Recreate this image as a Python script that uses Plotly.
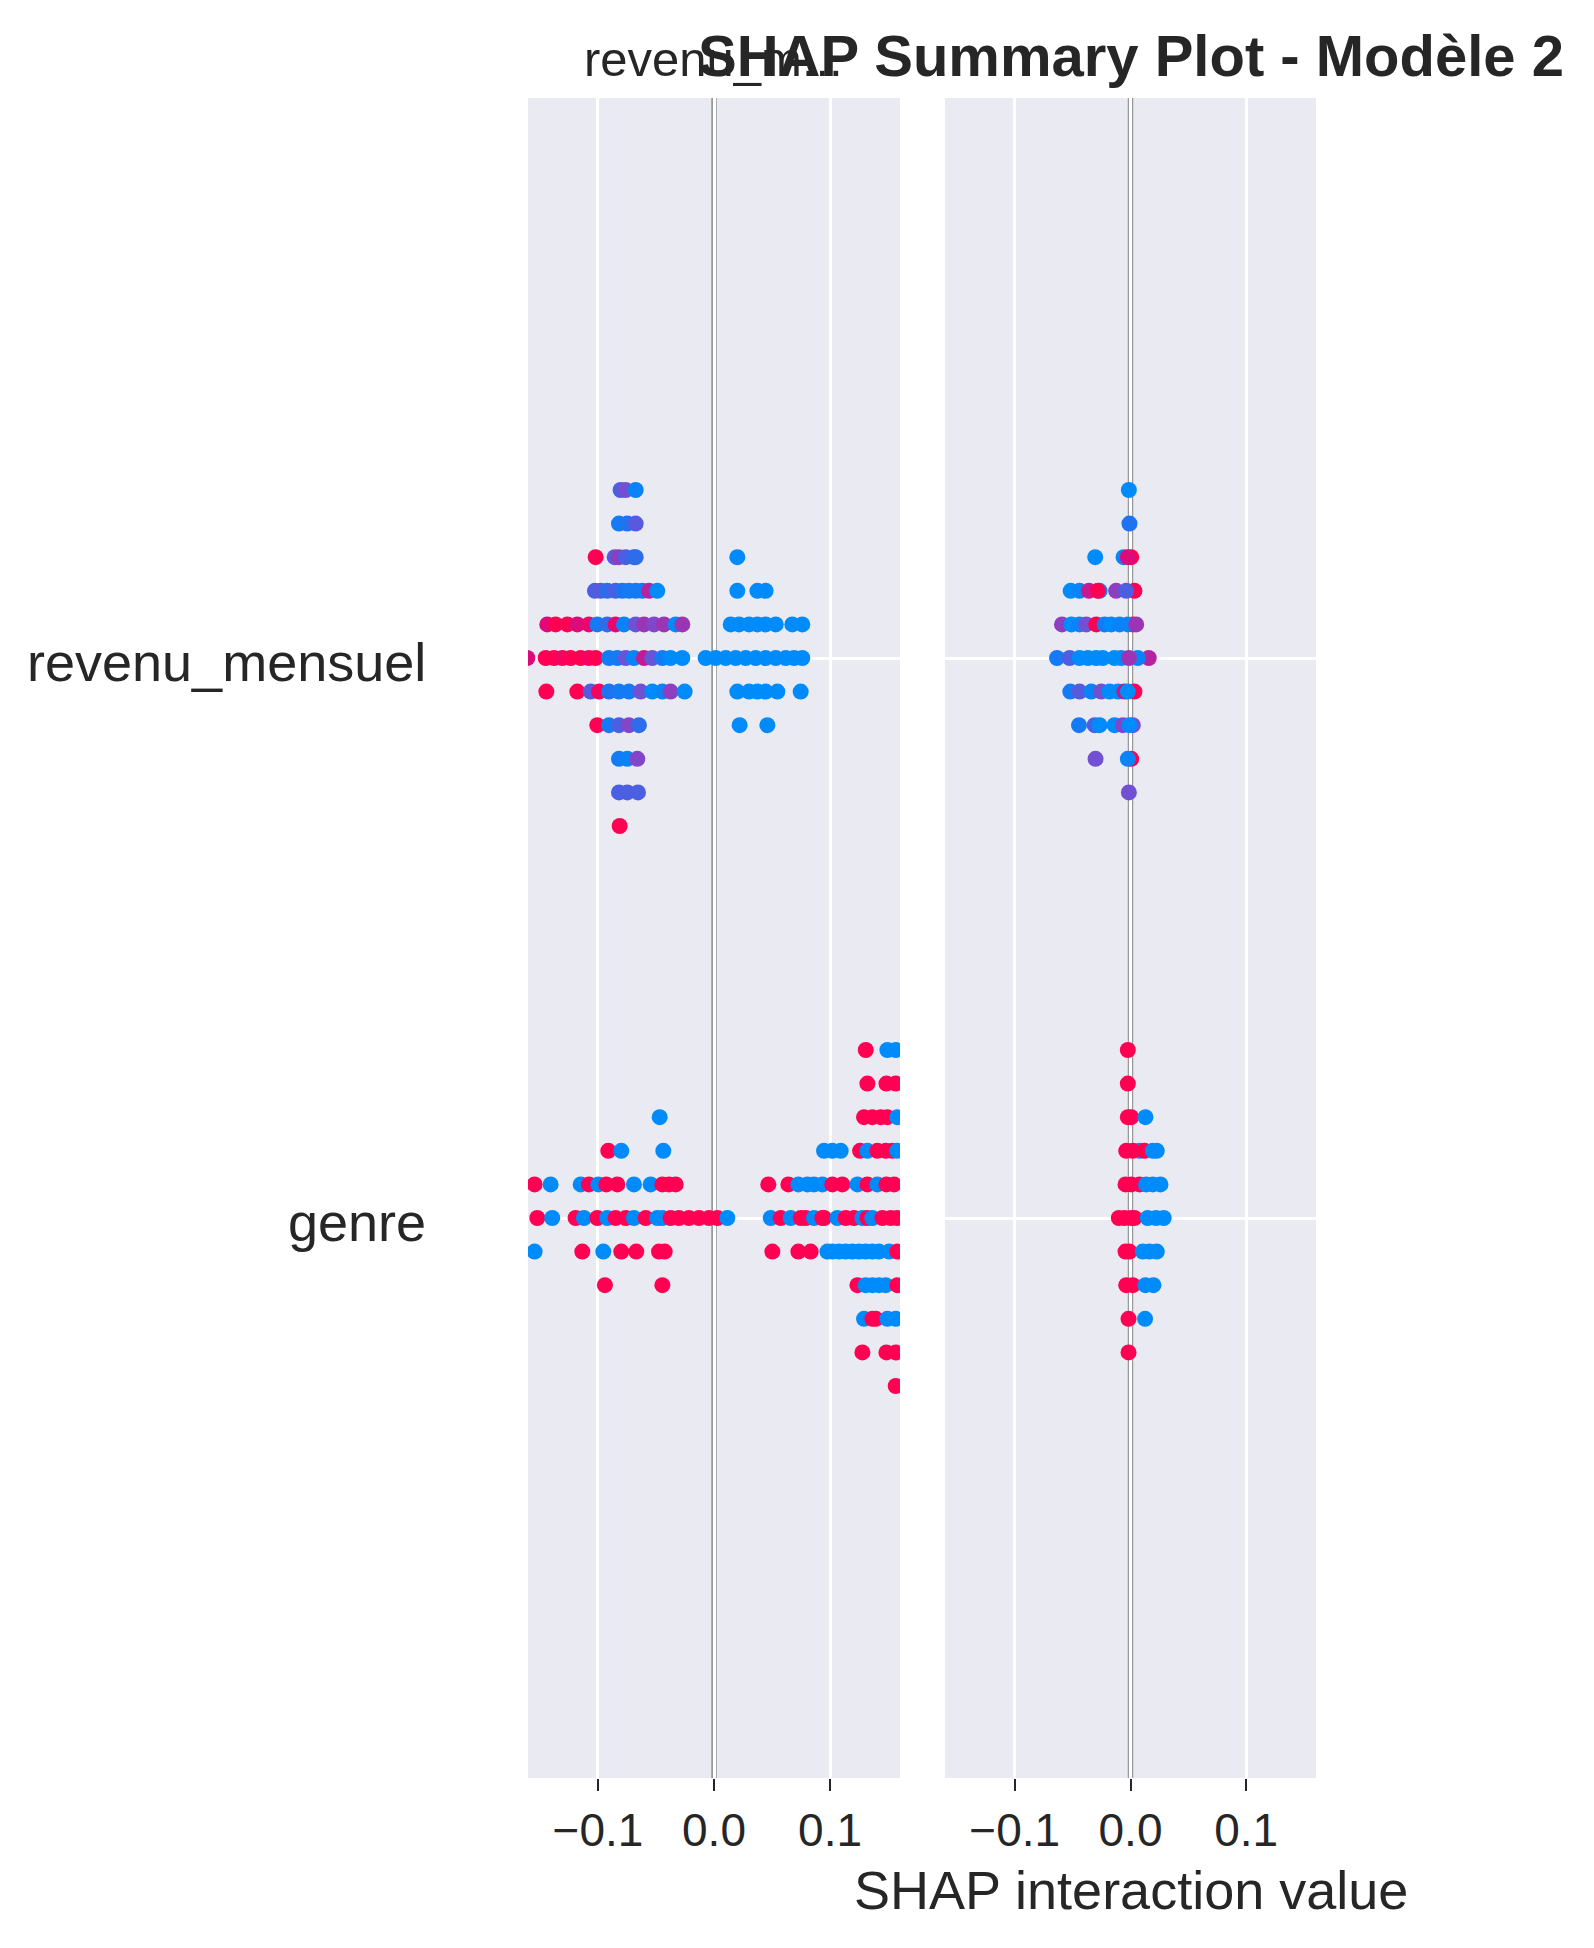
import plotly.graph_objects as go

# ---------------- data ----------------
FEATURES = ["genre", "revenu_mensuel"]          # y positions 0, 1
X_TICK_VALS = [-0.1, 0.0, 0.1]
X_TICK_TEXT = ["\u22120.1", "0.0", "0.1"]
PANEL_TITLES = ["revenu_m...", "SHAP Summary Plot - Modèle 2"]
X_TITLE = "SHAP interaction value"

# Panel 1, revenu_mensuel row: per swarm level, SHAP values and feature colour (0=low/blue, 1=high/red)
P1_REV_LEVELS = [5, 4, 3, 2, 1, 0, -1, -2, -3, -4, -5]
P1_REV_X = [
    [-0.0805, -0.0761, -0.0675],
    [-0.0819, -0.0747, -0.0675],
    [-0.1020, -0.0856, -0.0819, -0.0761, -0.0690, -0.0675, 0.0201],
    [-0.1026, -0.0977, -0.0920, -0.0848, -0.0790, -0.0733, -0.0675, -0.0618, -0.0560, -0.0489, 0.0201, 0.0374, 0.0445],
    [-0.1437, -0.1365, -0.1264, -0.1178, -0.1078, -0.1006, -0.0920, -0.0848, -0.0776, -0.0675, -0.0603, -0.0517, -0.0431, -0.0330, -0.0273,
     0.0144, 0.0216, 0.0302, 0.0374, 0.0445, 0.0532, 0.0675, 0.0761],
    [-0.1609, -0.1451, -0.1379, -0.1307, -0.1236, -0.1149, -0.1078, -0.1020, -0.0905, -0.0833, -0.0761, -0.0690, -0.0603, -0.0532, -0.0445, -0.0374, -0.0273,
     -0.0072, 0.0014, 0.0101, 0.0187, 0.0273, 0.0359, 0.0445, 0.0532, 0.0618, 0.0690, 0.0761],
    [-0.1445, -0.1178, -0.1063, -0.0991, -0.0905, -0.0819, -0.0733, -0.0632, -0.0532, -0.0445, -0.0374, -0.0253,
     0.0201, 0.0302, 0.0374, 0.0445, 0.0546, 0.0747],
    [-0.1006, -0.0905, -0.0819, -0.0733, -0.0647, 0.0221, 0.0460],
    [-0.0819, -0.0747, -0.0661],
    [-0.0819, -0.0747, -0.0655],
    [-0.0813],
]
P1_REV_C = [
    [0.3, 0.45, 0.05],
    [0.1, 0.15, 0.35],
    [1.0, 0.35, 0.55, 0.3, 0.25, 0.2, 0.0],
    [0.3, 0.35, 0.2, 0.3, 0.15, 0.1, 0.1, 0.1, 0.7, 0.0, 0.0, 0.0, 0.0],
    [0.85, 1.0, 1.0, 0.85, 0.9, 0.1, 0.2, 0.9, 0.05, 0.4, 0.6, 0.5, 0.6, 0.0, 0.6,
     0, 0, 0, 0, 0, 0, 0, 0],
    [0.85, 1.0, 1.0, 0.95, 1.0, 1.0, 0.95, 1.0, 0.1, 0.1, 0.4, 0.05, 0.75, 0.4, 0.1, 0.0, 0.0,
     0, 0, 0, 0, 0, 0, 0, 0, 0, 0, 0],
    [1.0, 1.0, 0.35, 0.95, 0.15, 0.1, 0.1, 0.45, 0.0, 0.05, 0.55, 0.0,
     0, 0, 0, 0, 0, 0],
    [1.0, 0.1, 0.3, 0.5, 0.2, 0, 0],
    [0.1, 0.05, 0.5],
    [0.3, 0.3, 0.3],
    [1.0],
]

# Panel 1, genre row (binary feature)
P1_GEN_LEVELS = [5, 4, 3, 2, 1, 0, -1, -2, -3, -4, -5]
P1_GEN_X = [
    [0.1308, 0.1494, 0.1566],
    [0.1322, 0.1486, 0.1566],
    [-0.0468, 0.1293, 0.1365, 0.1437, 0.1494, 0.1580],
    [-0.0911, -0.0799, -0.0437, 0.0948, 0.1020, 0.1092, 0.1259, 0.1322, 0.1408, 0.1480, 0.1537, 0.1580],
    [-0.1546, -0.1408, -0.1149, -0.1078, -0.0997, -0.0928, -0.0833, -0.0690, -0.0546, -0.0445, -0.0388, -0.0330,
     0.0468, 0.0641, 0.0727, 0.0805, 0.0862, 0.0934, 0.1020, 0.1106, 0.1236, 0.1322, 0.1408, 0.1486, 0.1552],
    [-0.1523, -0.1394, -0.1193, -0.1121, -0.1006, -0.0920, -0.0848, -0.0761, -0.0690, -0.0589, -0.0489, -0.0445, -0.0374, -0.0302, -0.0216, -0.0129, -0.0043, 0.0029, 0.0115,
     0.0489, 0.0575, 0.0661, 0.0747, 0.0790, 0.0862, 0.0934, 0.0948, 0.1063, 0.1135, 0.1207, 0.1279, 0.1322, 0.1365, 0.1451, 0.1523, 0.1580],
    [-0.1546, -0.1135, -0.0954, -0.0799, -0.0670, -0.0474, -0.0425,
     0.0503, 0.0727, 0.0833, 0.0977, 0.1020, 0.1078, 0.1135, 0.1193, 0.1250, 0.1307, 0.1365, 0.1422, 0.1509, 0.1580],
    [-0.0940, -0.0445, 0.1236, 0.1307, 0.1365, 0.1422, 0.1480, 0.1580],
    [0.1293, 0.1365, 0.1394, 0.1494, 0.1566],
    [0.1279, 0.1486, 0.1566],
    [0.1566],
]
P1_GEN_C = [
    [1, 0, 0],
    [1, 1, 1],
    [0, 1, 1, 1, 1, 0],
    [1, 0, 0, 0, 0, 0, 1, 0, 1, 1, 1, 0],
    [1, 0, 0, 1, 0, 1, 1, 0, 0, 1, 1, 1,
     1, 1, 0, 0, 0, 0, 1, 1, 0, 1, 0, 1, 1],
    [1, 0, 1, 0, 1, 0, 1, 1, 0, 1, 0, 0, 1, 1, 1, 1, 1, 1, 0,
     0, 1, 0, 1, 1, 0, 1, 1, 0, 1, 1, 0, 1, 0, 1, 1, 1],
    [0, 1, 0, 1, 1, 1, 1,
     1, 1, 1, 0, 0, 0, 0, 0, 0, 0, 0, 0, 0, 1],
    [1, 1, 1, 0, 0, 0, 0, 1],
    [0, 1, 1, 0, 0],
    [1, 1, 1],
    [1],
]

# Panel 2, revenu_mensuel row
P2_REV_LEVELS = [5, 4, 3, 2, 1, 0, -1, -2, -3, -4]
P2_REV_X = [
    [-0.0014],
    [-0.0009],
    [-0.0305, -0.0060, 0.0006, -0.0023],
    [-0.0517, -0.0440, -0.0267, -0.0359, -0.0282, -0.0124, 0.0034, -0.0037],
    [-0.0592, -0.0511, -0.0440, -0.0382, -0.0296, -0.0224, -0.0167, -0.0095, 0.0020, -0.0023, 0.0049],
    [-0.0635, -0.0526, -0.0440, -0.0368, -0.0296, -0.0239, -0.0138, -0.0080, 0.0158, 0.0063, -0.0014],
    [-0.0520, -0.0440, -0.0339, -0.0253, -0.0181, -0.0109, 0.0034, -0.0052, -0.0023],
    [-0.0445, -0.0310, -0.0267, -0.0138, 0.0020, -0.0066, -0.0009],
    [-0.0302, 0.0006, -0.0023],
    [-0.0014],
]
P2_REV_C = [
    [0.0],
    [0.15],
    [0.0, 0.05, 1.0, 0.85],
    [0.0, 0.05, 0.0, 0.75, 1.0, 0.55, 1.0, 0.3],
    [0.55, 0.0, 0.05, 0.45, 1.0, 0.1, 0.0, 0.05, 1.0, 0.05, 0.6],
    [0.1, 0.3, 0.0, 0.0, 0.0, 0.0, 0.0, 0.0, 0.7, 0.05, 0.6],
    [0.1, 0.35, 0.05, 0.45, 0.0, 0.0, 1.0, 0.8, 0.0],
    [0.1, 0.3, 0.0, 0.0, 0.45, 0.5, 0.0],
    [0.45, 1.0, 0.05],
    [0.45],
]

# Panel 2, genre row
P2_GEN_LEVELS = [5, 4, 3, 2, 1, 0, -1, -2, -3, -4]
P2_GEN_X = [
    [-0.0023],
    [-0.0023],
    [-0.0023, 0.0006, 0.0129],
    [0.0078, -0.0037, 0.0020, 0.0121, 0.0193, 0.0227],
    [-0.0043, 0.0006, 0.0078, 0.0135, 0.0193, 0.0259],
    [-0.0101, -0.0052, 0.0006, 0.0034, 0.0149, 0.0221, 0.0287],
    [-0.0043, -0.0009, 0.0106, 0.0164, 0.0227],
    [-0.0037, 0.0020, 0.0129, 0.0198],
    [-0.0017, 0.0126],
    [-0.0017],
]
P2_GEN_C = [
    [1],
    [1],
    [1, 1, 0],
    [0, 1, 1, 1, 0, 0],
    [1, 1, 1, 0, 0, 0],
    [1, 1, 1, 1, 0, 0, 0],
    [1, 1, 0, 0, 0],
    [1, 1, 0, 0],
    [1, 0],
    [1],
]

# ---------------- styling ----------------
W, H = 1594, 1948
ROW_STEP = 0.06
FONT = "Liberation Sans, Arial, Helvetica, sans-serif"
TXT = "#262626"
BG = "#EAEAF2"
SHAP_RED_BLUE = [
    [0.0, "rgb(0,139,251)"], [0.15, "rgb(30,115,240)"], [0.3, "rgb(75,95,226)"],
    [0.45, "rgb(115,80,210)"], [0.55, "rgb(142,62,190)"], [0.7, "rgb(182,35,160)"],
    [0.85, "rgb(222,10,122)"], [1.0, "rgb(255,0,82)"],
]

fig = go.Figure()


def add_swarm(levels, xs_nested, cs_nested, feat_idx, xa, ya):
    xs, ys, cs = [], [], []
    for lev, xrow, crow in zip(levels, xs_nested, cs_nested):
        for xv, cv in zip(xrow, crow):
            xs.append(xv)
            ys.append(feat_idx + lev * ROW_STEP)
            cs.append(cv)
    fig.add_trace(go.Scatter(
        x=xs, y=ys, mode="markers", xaxis=xa, yaxis=ya,
        marker=dict(size=16, color=cs, colorscale=SHAP_RED_BLUE, cmin=0, cmax=1,
                    line=dict(width=0)),
        showlegend=False, hoverinfo="skip"))


i_rev = FEATURES.index("revenu_mensuel")
i_gen = FEATURES.index("genre")
add_swarm(P1_REV_LEVELS, P1_REV_X, P1_REV_C, i_rev, "x", "y")
add_swarm(P1_GEN_LEVELS, P1_GEN_X, P1_GEN_C, i_gen, "x", "y")
add_swarm(P2_REV_LEVELS, P2_REV_X, P2_REV_C, i_rev, "x2", "y2")
add_swarm(P2_GEN_LEVELS, P2_GEN_X, P2_GEN_C, i_gen, "x2", "y2")

ydom = [1 - 1778 / H, 1 - 98 / H]
xrange = [-0.1603, 0.1603]
yrange = [-1, 2]

common_x = dict(range=xrange, tickmode="array", tickvals=X_TICK_VALS, ticktext=X_TICK_TEXT,
                showgrid=True, gridcolor="white", gridwidth=2.5, zeroline=False,
                showline=False, ticks="outside", ticklen=12, tickwidth=2, tickcolor=TXT,
                tickfont=dict(size=46, color=TXT, family=FONT), fixedrange=True)
common_y = dict(range=yrange, tickmode="array", tickvals=list(range(len(FEATURES))),
                showgrid=True, gridcolor="white", gridwidth=2.5, zeroline=False,
                showline=False, ticks="", showticklabels=False, fixedrange=True)

fig.update_layout(
    width=W, height=H, autosize=False,
    margin=dict(l=0, r=0, t=0, b=0),
    paper_bgcolor="white", plot_bgcolor=BG,
    font=dict(family=FONT, color=TXT),
    xaxis=dict(domain=[528 / W, 900 / W], anchor="y", **common_x),
    xaxis2=dict(domain=[945 / W, 1316 / W], anchor="y2", **common_x),
    yaxis=dict(domain=ydom, anchor="x", **common_y),
    yaxis2=dict(domain=ydom, anchor="x2", **common_y),
)

# feature names on the left, placed at their y positions
for idx, name in enumerate(FEATURES):
    fig.add_annotation(text=name, xref="paper", yref="y", x=428 / W, y=idx, yshift=-4,
                       showarrow=False, xanchor="right", yanchor="middle",
                       font=dict(size=54, color=TXT, family=FONT))

for xr in ["x", "x2"]:
    fig.add_shape(type="line", xref=xr, yref=("y domain" if xr == "x" else "y2 domain"),
                  x0=0, x1=0, y0=0, y1=1, line=dict(color="#999999", width=5.5), layer="below")

fig.add_annotation(text=PANEL_TITLES[0], xref="paper", yref="paper", x=713 / W, y=1 - 59 / H,
                   showarrow=False, xanchor="center", yanchor="middle",
                   font=dict(size=49, color=TXT, family=FONT))
fig.add_annotation(text="<b>" + PANEL_TITLES[1] + "</b>", xref="paper", yref="paper",
                   x=1131 / W, y=1 - 56 / H, showarrow=False, xanchor="center", yanchor="middle",
                   font=dict(size=58, color=TXT, family=FONT))
fig.add_annotation(text=X_TITLE, xref="paper", yref="paper", x=1131 / W, y=1 - 1890 / H,
                   showarrow=False, xanchor="center", yanchor="middle",
                   font=dict(size=54, color=TXT, family=FONT))

fig.write_html("out.html", config={"displayModeBar": False},
               post_script="document.body.style.margin='0';")
